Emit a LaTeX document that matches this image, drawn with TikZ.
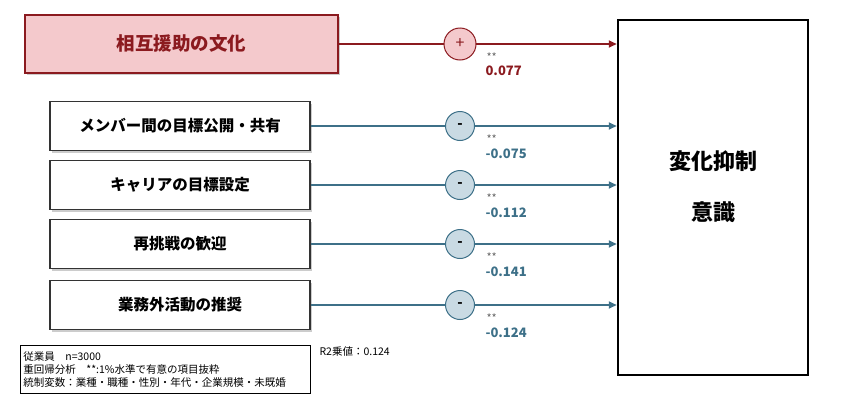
\documentclass[tikz,border=0pt]{standalone}
\usepackage{fontspec}
\setmainfont{Noto Sans CJK JP}
\usetikzlibrary{arrows.meta,shadows}
\definecolor{dred}{HTML}{8B1A1F}
\definecolor{pinkf}{HTML}{F4C9CC}
\definecolor{teal}{HTML}{3D7088}
\definecolor{bluef}{HTML}{C9DAE3}
\begin{document}
\begin{tikzpicture}[x=1pt,y=-1pt,
  lbox/.style={draw=black!80,line width=1.2pt,fill=white,minimum width=260pt,minimum height=49pt,font=\bfseries\fontsize{15.5}{17}\selectfont,drop shadow={shadow xshift=2pt,shadow yshift=-2pt,opacity=0.4}},
  bcirc/.style={circle,draw=teal,line width=1pt,fill=bluef,minimum size=29pt,inner sep=0pt,font=\bfseries\fontsize{14}{14}\selectfont},
  barr/.style={teal,line width=1.8pt,-{Triangle[length=8pt,width=7pt]}},
  star/.style={font=\fontsize{11}{11}\selectfont,anchor=west,text=gray!80!black},
  val/.style={font=\bfseries\fontsize{13}{13}\selectfont,anchor=west,text=teal}]
\useasboundingbox (0,0) rectangle (846,410);
\node[draw=dred,line width=1.5pt,fill=pinkf,minimum width=313pt,minimum height=58pt,text=dred,font=\bfseries\fontsize{18.5}{20}\selectfont,drop shadow={shadow xshift=2pt,shadow yshift=-2pt,opacity=0.4}] (top) at (181.5,44) {相互援助の文化};
\node[draw=black,line width=2.5pt,fill=white,minimum width=190pt,minimum height=355pt] (dv) at (713,197.5) {};
\node[align=center,font=\bfseries\fontsize{22}{51}\selectfont] (dvt) at (713,187) {変化抑制\\意識};
\coordinate (t0) at (dv.west |- 0,44);
\draw[dred,line width=1.8pt,-{Triangle[length=8pt,width=7pt]}] (top.east) -- (t0);
\node[circle,draw=dred,line width=1pt,fill=pinkf,minimum size=32pt,inner sep=0pt,text=dred,font=\fontsize{16}{16}\selectfont] (c0) at (460,44) {+};
\node[star] (s0) at (483,57) {**};
\node[val,text=dred] (v0) at (482,71) {0.077};
\foreach \i/\y/\t/\v in {1/126/メンバー間の目標公開・共有/-0.075,2/185/キャリアの目標設定/-0.112,3/244/再挑戦の歓迎/-0.141,4/305/業務外活動の推奨/-0.124}{
  \node[lbox] (b\i) at (180,\y) {\t};
  \coordinate (e\i) at (dv.west |- 0,\y);
  \draw[barr] (b\i.east) -- (e\i);
  \node[bcirc] (c\i) at (460,\y) {-};
  \node[star] (s\i) at (483,\y+13) {**};
  \node[val] (v\i) at (482,\y+28) {\v};
}
\node[draw=black,line width=0.8pt,minimum width=290pt,minimum height=48pt,align=left,anchor=north west,inner sep=3pt,font=\fontsize{10.5}{13}\selectfont,text width=284pt] (note) at (20,345) {従業員　n=3000\\重回帰分析　**:1\%水準で有意の項目抜粋\\統制変数：業種・職種・性別・年代・企業規模・未既婚};
\node[anchor=west,font=\fontsize{10.5}{11}\selectfont] (r2) at (316,352) {R2乗値：0.124};
\end{tikzpicture}
\end{document}
